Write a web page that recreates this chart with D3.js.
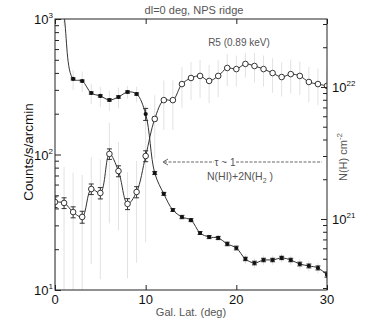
<!DOCTYPE html>
<html>
<head>
<meta charset="utf-8">
<script src="https://cdn.jsdelivr.net/npm/d3@7"></script>
<style>
  body { margin: 0; background: #fff; }
  svg { display: block; font-family: "Liberation Sans", Arial, sans-serif; }
</style>
</head>
<body>
<div id="chart"></div>
<script>
// galactic latitude (deg)
const lat = [0, 1, 2, 3, 4, 5, 6, 7, 8, 9, 10, 11, 12, 13, 14, 15, 16, 17, 18, 19, 20, 21, 22, 23, 24, 25, 26, 27, 28, 29, 30];
// R5 counts (open circles, left axis)
const counts = [44.6, 43.9, 37.6, 34.6, 55.6, 52, 101, 75.5, 43.2, 52.9, 97.5, 183, 252, 252, 331, 367, 380, 349, 380, 435, 427, 466, 450, 427, 399, 373, 392, 380, 343, 331, 321];
const countsErr = [4, 4, 3.5, 3.5, 5, 5, 9, 7, 4, 5, 9, 6, 6, 6, 6, 6, 6, 6, 6, 6, 6, 6, 6, 6, 6, 6, 6, 6, 6, 6, 6];
const countsSys = [37, 37, 36, 36, 40, 40, 70, 48, 31, 37, 75, 90, 100, 100, 110, 115, 118, 110, 115, 115, 110, 97, 110, 110, 114, 105, 110, 105, 100, 100, 95];
// N(HI)+2N(H2) in units of 1e20 cm^-2 (filled circles, right axis)
const nh = [1300, 350, 115, 111, 90, 85.5, 79.7, 84, 91.6, 88.5, 62.3, 22.3, 15.5, 11.7, 10.35, 9.8, 7.83, 7.3, 7.18, 6.47, 6.03, 4.98, 4.64, 4.89, 4.89, 5.07, 4.89, 4.56, 4.41, 4.26, 3.77];
const nhErr = [0, 0, 2, 2, 1.8, 1.7, 1.6, 1.7, 1.8, 1.8, 6.5, 0.6, 0.4, 0.3, 0.3, 0.25, 0.2, 0.2, 0.2, 0.2, 0.2, 0.15, 0.15, 0.15, 0.15, 0.15, 0.15, 0.15, 0.15, 0.15, 0.15];
const nhSys = [0, 60, 20, 20, 16, 15, 14, 15, 10, 12, 10, 0, 0, 0, 0, 0, 0, 0, 0, 0, 0, 0.4, 0.4, 0.4, 0.4, 0.4, 0.4, 0.4, 0.4, 0.4, 0.4];

const leftTicks = [10, 100, 1000];
const leftTickExp = ['1', '2', '3'];
const rightTicks = [10, 100];
const rightTickExp = ['21', '22'];
const xTicks = [0, 10, 20, 30];

const width = 382;
const height = 322;
const m = { top: 19, right: 55, bottom: 32, left: 55 };
const pw = width - m.left - m.right;
const ph = height - m.top - m.bottom;

const svg = d3.select('#chart').append('svg')
  .attr('width', width)
  .attr('height', height);

const x = d3.scaleLinear().domain([0, 30]).range([m.left, m.left + pw]);
const yL = d3.scaleLog().domain([10, 1000]).range([m.top + ph, m.top]);
const yR = d3.scaleLog().domain([Math.pow(10, 0.462), Math.pow(10, 2.515)]).range([m.top + ph, m.top]);

svg.append('clipPath').attr('id', 'clip')
  .append('rect')
  .attr('x', m.left).attr('y', m.top)
  .attr('width', pw).attr('height', ph);

const plot = svg.append('g').attr('clip-path', 'url(#clip)');

// light systematic bars
function grayBars(vals, sys, y) {
  plot.append('g').selectAll('line')
    .data(lat.filter((d, i) => sys[i] > 0))
    .enter().append('line')
    .attr('x1', d => x(d)).attr('x2', d => x(d))
    .attr('y1', d => y(Math.max(vals[d] - sys[d], 1)))
    .attr('y2', d => y(vals[d] + sys[d]))
    .attr('stroke', '#e2e2e2')
    .attr('stroke-width', 1);
}
grayBars(counts, countsSys, yL);
grayBars(nh, nhSys, yR);

// statistical bars with caps
function blackBars(vals, err, y) {
  const g = plot.append('g').selectAll('g')
    .data(lat.filter((d, i) => err[i] > 0))
    .enter().append('g')
    .attr('stroke', '#333')
    .attr('stroke-width', 1);
  g.append('line')
    .attr('x1', d => x(d)).attr('x2', d => x(d))
    .attr('y1', d => y(vals[d] - err[d]))
    .attr('y2', d => y(vals[d] + err[d]));
  g.append('line')
    .attr('x1', d => x(d) - 2.5).attr('x2', d => x(d) + 2.5)
    .attr('y1', d => y(vals[d] - err[d])).attr('y2', d => y(vals[d] - err[d]));
  g.append('line')
    .attr('x1', d => x(d) - 2.5).attr('x2', d => x(d) + 2.5)
    .attr('y1', d => y(vals[d] + err[d])).attr('y2', d => y(vals[d] + err[d]));
}
blackBars(counts, countsErr, yL);
blackBars(nh, nhErr, yR);

// smooth curves
const lineL = d3.line().x(d => x(d)).y(d => yL(counts[d])).curve(d3.curveCatmullRom.alpha(0.5));
const lineR = d3.line().x(d => x(d)).y(d => yR(nh[d])).curve(d3.curveCatmullRom.alpha(0.5));

plot.append('path').attr('d', lineR(lat))
  .attr('fill', 'none').attr('stroke', '#333').attr('stroke-width', 1);
plot.append('path').attr('d', lineL(lat))
  .attr('fill', 'none').attr('stroke', '#333').attr('stroke-width', 1);

plot.append('g').selectAll('circle')
  .data(lat).enter().append('circle')
  .attr('cx', d => x(d)).attr('cy', d => yR(nh[d]))
  .attr('r', 2.1)
  .attr('fill', '#111');

plot.append('g').selectAll('circle')
  .data(lat).enter().append('circle')
  .attr('cx', d => x(d)).attr('cy', d => yL(counts[d]))
  .attr('r', 2.8)
  .attr('fill', '#fff')
  .attr('stroke', '#222')
  .attr('stroke-width', 0.9);

// frame
svg.append('rect')
  .attr('x', m.left).attr('y', m.top)
  .attr('width', pw).attr('height', ph)
  .attr('fill', 'none').attr('stroke', '#222').attr('stroke-width', 1);

// inside ticks, left axis
const leftAxis = d3.axisRight(yL).tickSize(6).tickFormat('');
const gl = svg.append('g').attr('transform', `translate(${m.left},0)`).call(leftAxis);
gl.select('.domain').remove();
gl.selectAll('.tick line').attr('stroke', '#222')
  .attr('x2', d => (leftTicks.includes(d) ? 6 : 4));

// inside ticks, right axis
const rightAxis = d3.axisLeft(yR).tickSize(6).tickFormat('');
const gr = svg.append('g').attr('transform', `translate(${m.left + pw},0)`).call(rightAxis);
gr.select('.domain').remove();
gr.selectAll('.tick line').attr('stroke', '#222')
  .attr('x2', d => (rightTicks.includes(d) ? -6 : -4));

// inside ticks, bottom and top
const gb = svg.append('g').attr('transform', `translate(0,${m.top + ph})`)
  .call(d3.axisTop(x).tickValues(xTicks).tickSize(5).tickFormat(''));
gb.select('.domain').remove();
gb.selectAll('.tick line').attr('stroke', '#222');
const gt = svg.append('g').attr('transform', `translate(0,${m.top})`)
  .call(d3.axisBottom(x).tickValues(xTicks).tickSize(5).tickFormat(''));
gt.select('.domain').remove();
gt.selectAll('.tick line').attr('stroke', '#222');

// tick labels
svg.append('g').selectAll('text')
  .data(xTicks).enter().append('text')
  .attr('x', d => x(d)).attr('y', m.top + ph + 14)
  .attr('text-anchor', 'middle')
  .attr('font-size', 13)
  .attr('fill', '#111')
  .text(d => d);

function powerLabel(g, xPos, yPos, exp, anchorRight) {
  const t = g.append('text')
    .attr('y', yPos + 5)
    .attr('fill', '#111')
    .attr('font-size', 13);
  t.append('tspan').text('10');
  t.append('tspan').attr('dy', -6).attr('font-size', 8).text(exp);
  if (anchorRight) {
    t.attr('x', xPos).attr('text-anchor', 'end');
  } else {
    t.attr('x', xPos);
  }
}
leftTicks.forEach((v, i) => powerLabel(svg, m.left - 2, yL(v), leftTickExp[i], true));
rightTicks.forEach((v, i) => powerLabel(svg, m.left + pw + 5, yR(v), rightTickExp[i], false));

// titles
svg.append('text')
  .attr('x', 194).attr('y', 14)
  .attr('text-anchor', 'middle')
  .attr('font-size', 11)
  .attr('fill', '#555')
  .text('dl=0 deg, NPS ridge');

svg.append('text')
  .attr('x', 239).attr('y', 46)
  .attr('text-anchor', 'middle')
  .attr('font-size', 10)
  .attr('fill', '#555')
  .text('R5 (0.89 keV)');

svg.append('text')
  .attr('x', 191).attr('y', 316)
  .attr('text-anchor', 'middle')
  .attr('font-size', 11)
  .attr('fill', '#555')
  .text('Gal. Lat. (deg)');

svg.append('text')
  .attr('transform', 'translate(33,152) rotate(-90)')
  .attr('text-anchor', 'middle')
  .attr('font-size', 13.5)
  .attr('fill', '#111')
  .text('Counts/s/arcmin');

const nhLab = svg.append('text')
  .attr('transform', 'translate(347,157) rotate(-90)')
  .attr('text-anchor', 'middle')
  .attr('font-size', 11)
  .attr('fill', '#555');
nhLab.append('tspan').text('N(H) cm');
nhLab.append('tspan').attr('dy', -5).attr('font-size', 8).text('-2');

// tau ~ 1 annotation
const ay = 162;
svg.append('line')
  .attr('x1', 164).attr('x2', 214).attr('y1', ay).attr('y2', ay)
  .attr('stroke', '#666').attr('stroke-dasharray', '3,1.5');
svg.append('line')
  .attr('x1', 236).attr('x2', 322).attr('y1', ay).attr('y2', ay)
  .attr('stroke', '#666').attr('stroke-dasharray', '3,1.5');
svg.append('path')
  .attr('d', `M168,${ay - 3} L163,${ay} L168,${ay + 3}`)
  .attr('fill', 'none').attr('stroke', '#666');
svg.append('text')
  .attr('x', 225).attr('y', ay + 4)
  .attr('text-anchor', 'middle')
  .attr('font-size', 10)
  .attr('fill', '#555')
  .text('τ ~ 1');

const nhText = svg.append('text')
  .attr('x', 240).attr('y', 180)
  .attr('text-anchor', 'middle')
  .attr('font-size', 10.5)
  .attr('fill', '#555');
nhText.append('tspan').text('N(HI)+2N(H');
nhText.append('tspan').attr('dy', 3).attr('font-size', 7).text('2');
nhText.append('tspan').attr('dy', -3).text(' )');
</script>
</body>
</html>
